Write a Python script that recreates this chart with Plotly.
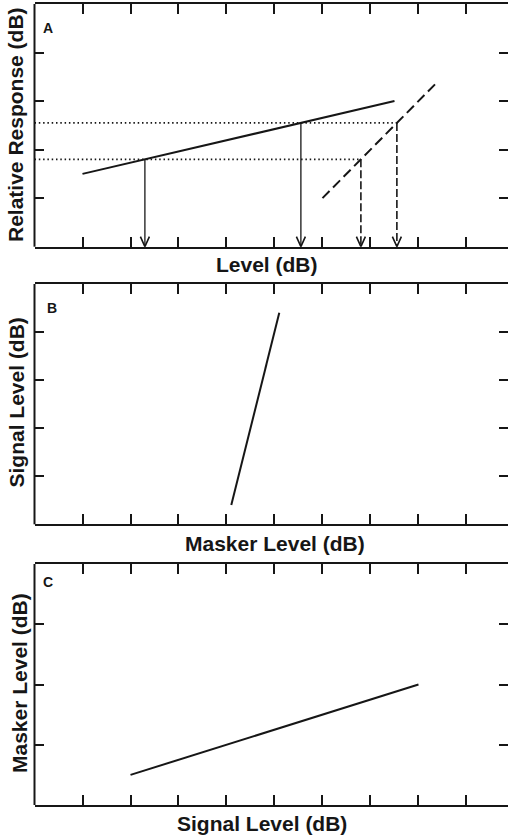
import plotly.graph_objects as go

# ---- data -------------------------------------------------------------
# Panel A: compressive (solid) and linear (dashed) input/output functions
a_solid_x = [1.0, 7.5]
a_solid_y = [1.5, 3.0]
a_dash_x = [6.0, 8.4]
a_dash_y = [1.0, 3.4]
a_levels = [1.8, 2.55]          # equal-response criteria (dotted lines)

# Panel B: signal level at threshold vs masker level
b_x = [4.1, 5.1]
b_y = [0.4, 4.4]

# Panel C: masker level at threshold vs signal level
c_x = [2.0, 8.0]
c_y = [0.5, 2.0]

x_ticks = [1, 2, 3, 4, 5, 6, 7, 8, 9]
a_y_ticks = [1, 2, 3, 4]
b_y_ticks = [1, 2, 3, 4]
c_y_ticks = [1, 2, 3]

panel_letters = ["A", "B", "C"]
x_titles = ["Level (dB)", "Masker Level (dB)", "Signal Level (dB)"]
y_titles = ["Relative Response (dB)", "Signal Level (dB)", "Masker Level (dB)"]

# ---- geometry / style -------------------------------------------------
W, H = 508, 839
INK = "#161616"
FONT = "Liberation Sans, Arial, Helvetica, sans-serif"

X_RANGE = [0, 9.865]
y_ranges = [[0, 5], [0, 5], [0, 4]]
x_dom = [34.5 / W, 1.0]
# panel extents in pixels (top, bottom)
panel_px = [(4.0, 246.7), (284.0, 524.3), (564.0, 805.0)]
y_doms = [[1 - b / H, 1 - t / H] for t, b in panel_px]


def cross_x(xs, ys, level):
    """x where the straight line through (xs, ys) reaches the given level."""
    return xs[0] + (level - ys[0]) * (xs[1] - xs[0]) / (ys[1] - ys[0])


fig = go.Figure()


def line(x, y, axis, width=2.0, dash="solid"):
    xa, ya = ("x", "y") if axis == 1 else (f"x{axis}", f"y{axis}")
    fig.add_trace(go.Scatter(
        x=x, y=y, xaxis=xa, yaxis=ya, mode="lines",
        line=dict(color=INK, width=width, dash=dash),
        hoverinfo="skip", showlegend=False))


# Panel A curves
line(a_solid_x, a_solid_y, 1, 2.0)
line(a_dash_x, a_dash_y, 1, 2.0, "10px,5px")

solid_hits = [cross_x(a_solid_x, a_solid_y, r) for r in a_levels]
dash_hits = [cross_x(a_dash_x, a_dash_y, r) for r in a_levels]

# dotted equal-response lines from the axis to the dashed function
dx, dy = [], []
for r, xe in zip(a_levels, dash_hits):
    dx += [X_RANGE[0], xe, None]
    dy += [r, r, None]
line(dx, dy, 1, 1.6, "1.5px,2.8px")

# vertical drops to the level axis
sx, sy = [], []
for r, xs in zip(a_levels, solid_hits):
    sx += [xs, xs, None]
    sy += [r, 0, None]
line(sx, sy, 1, 1.3)

qx, qy = [], []
for r, xs in zip(a_levels, dash_hits):
    qx += [xs, xs, None]
    qy += [r, 0, None]
line(qx, qy, 1, 1.6, "8px,3px")

# open arrowheads at the foot of each drop
px_per_x = (W * (x_dom[1] - x_dom[0])) / (X_RANGE[1] - X_RANGE[0])
px_per_y = (panel_px[0][1] - panel_px[0][0]) / (y_ranges[0][1] - y_ranges[0][0])
hw = 4.5 / px_per_x
hh = 10.0 / px_per_y
hx, hy = [], []
for xs in solid_hits + dash_hits:
    hx += [xs - hw, xs, xs + hw, None]
    hy += [hh, 0.0, hh, None]
line(hx, hy, 1, 1.6)

# Panels B and C
line(b_x, b_y, 2, 2.0)
line(c_x, c_y, 3, 2.0)

# ---- axes -------------------------------------------------------------
tick_common = dict(
    ticks="inside", tickwidth=2, tickcolor=INK,
    showticklabels=False, showgrid=False, zeroline=False, fixedrange=True,
)
y_tick_sets = [a_y_ticks, b_y_ticks, c_y_ticks]
layout_axes = {}
shapes = []
for i in range(3):
    sfx = "" if i == 0 else str(i + 1)
    layout_axes[f"xaxis{sfx}"] = dict(
        tick_common, showline=True, linecolor=INK, linewidth=2,
        mirror="ticks", ticklen=10,
        domain=x_dom, range=X_RANGE, tickvals=x_ticks, anchor=f"y{sfx}")
    # the right-hand frame edge lies past the page, so only its ticks show
    layout_axes[f"yaxis{sfx}"] = dict(
        tick_common, showline=False, mirror="ticks", ticklen=9,
        domain=y_doms[i], range=y_ranges[i],
        tickvals=y_tick_sets[i], anchor=f"x{sfx}")
    shapes.append(dict(
        type="line", xref=f"x{sfx} domain", yref=f"y{sfx} domain",
        x0=0, x1=0, y0=0, y1=1, line=dict(color=INK, width=2)))

# ---- text -------------------------------------------------------------
annotations = []
letter_px = [(48, 27.5), (52, 308), (48, 582)]
x_title_px = [(267, 264), (275, 543), (262, 823)]
y_title_px = [(15, 125), (16.5, 403), (19, 683)]
for i in range(3):
    lx, ly = letter_px[i]
    annotations.append(dict(
        text=panel_letters[i], x=lx / W, y=1 - ly / H, xref="paper", yref="paper",
        xanchor="center", yanchor="middle", showarrow=False,
        font=dict(family=FONT, size=14, color=INK, weight="bold")))
    tx, ty = x_title_px[i]
    annotations.append(dict(
        text=x_titles[i], x=tx / W, y=1 - ty / H, xref="paper", yref="paper",
        xanchor="center", yanchor="middle", showarrow=False,
        font=dict(family=FONT, size=21, color=INK, weight="bold")))
    vx, vy = y_title_px[i]
    annotations.append(dict(
        text=y_titles[i], x=vx / W, y=1 - vy / H, xref="paper", yref="paper",
        xanchor="center", yanchor="middle", showarrow=False, textangle=-90,
        font=dict(family=FONT, size=21, color=INK, weight="bold")))

fig.update_layout(
    width=W, height=H, autosize=False,
    margin=dict(l=0, r=0, t=0, b=0, pad=0),
    paper_bgcolor="white", plot_bgcolor="white",
    annotations=annotations, shapes=shapes,
    **layout_axes,
)

fig.write_html("out.html", config=dict(displayModeBar=False))
